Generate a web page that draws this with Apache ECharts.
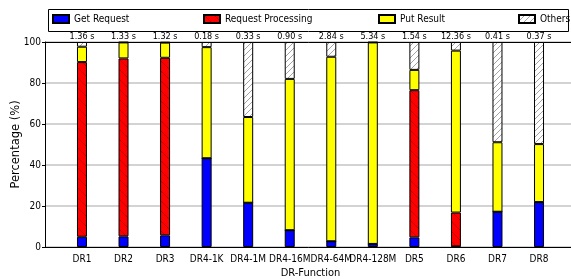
<!DOCTYPE html>
<html>
<head>
<meta charset="utf-8">
<script src="https://cdn.jsdelivr.net/npm/echarts@6/dist/echarts.min.js"></script>
<style>
  html, body { margin: 0; padding: 0; background: #fff; }
  #chart { width: 571px; height: 279px; }
</style>
</head>
<body>
<div id="chart"></div>
<script>
// 各类别和数值
const categories = ['DR1', 'DR2', 'DR3', 'DR4-1K', 'DR4-1M', 'DR4-16M', 'DR4-64M', 'DR4-128M', 'DR5', 'DR6', 'DR7', 'DR8']
const times = ['1.36 s', '1.33 s', '1.32 s', '0.18 s', '0.33 s', '0.90 s', '2.84 s', '5.34 s', '1.54 s', '12.36 s', '0.41 s', '0.37 s']
const getRequest = [5.0, 5.2, 5.7, 43.3, 21.6, 8.2, 2.8, 1.5, 4.7, 0.3, 17.2, 21.9]
const reqProcessing = [85.2, 86.8, 86.6, 0, 0, 0, 0, 0, 71.8, 16.5, 0, 0]
const putResult = [7.5, 7.8, 7.4, 54.2, 41.8, 73.8, 90.0, 98.3, 9.9, 79.0, 33.9, 28.3]
const others = [2.3, 0.2, 0.3, 2.5, 36.6, 18.0, 7.2, 0.2, 13.6, 4.2, 48.9, 49.8]

const narrow = "'DejaVu Sans Condensed', 'DejaVu Sans', sans-serif"

// 斜线填充
function hatch (bg, stroke, size, dir) {
  const c = document.createElement('canvas')
  c.width = size
  c.height = size
  const ctx = c.getContext('2d')
  ctx.fillStyle = bg
  ctx.fillRect(0, 0, size, size)
  ctx.strokeStyle = stroke
  ctx.lineWidth = 0.8
  ctx.beginPath()
  if (dir === '/') {
    ctx.moveTo(-1, size + 1); ctx.lineTo(size + 1, -1)
    ctx.moveTo(-1, 1); ctx.lineTo(1, -1)
    ctx.moveTo(size - 1, size + 1); ctx.lineTo(size + 1, size - 1)
  } else {
    ctx.moveTo(-1, -1); ctx.lineTo(size + 1, size + 1)
    ctx.moveTo(size - 1, -1); ctx.lineTo(size + 1, 1)
    ctx.moveTo(-1, size - 1); ctx.lineTo(1, size + 1)
  }
  ctx.stroke()
  return { image: c, repeat: 'repeat' }
}

const idx = categories.map((c, i) => i)

function barSeries (name, data, color) {
  return {
    name: name,
    type: 'bar',
    stack: 'total',
    xAxisIndex: 2,
    yAxisIndex: 1,
    barWidth: 10,
    data: data,
    itemStyle: { color: color, borderColor: '#000', borderWidth: 1 },
    emphasis: { disabled: true }
  }
}

const chart = echarts.init(document.getElementById('chart'))
const legendPos = [
  { name: 'Get Request', left: 52 },
  { name: 'Request Processing', left: 203 },
  { name: 'Put Result', left: 378 },
  { name: 'Others', left: 518 }
]

// 外框网格（坐标轴）+ 柱子网格（每格 41.55px）
chart.setOption({
  animation: false,
  grid: [
    { left: 45, right: -5, top: 42, bottom: 32, containLabel: false, outerBoundsMode: 'none' },
    { left: 61.2, right: 11.2, top: 42, bottom: 32, containLabel: false, outerBoundsMode: 'none' }
  ],
  legend: legendPos.map(l => ({
    data: [{ name: l.name, icon: 'rect' }],
    left: l.left,
    top: 14,
    padding: 0,
    itemWidth: 16,
    itemHeight: 8,
    itemGap: 6,
    textStyle: { fontFamily: narrow, fontSize: 10, color: '#000' }
  })),
  graphic: [{
    type: 'rect',
    shape: { x: 48.5, y: 9.5, width: 520, height: 22 },
    style: { fill: 'none', stroke: '#000', lineWidth: 1 },
    silent: true
  }],
  xAxis: [{
    type: 'value',
    gridIndex: 0,
    min: -0.89,
    max: 11.89,
    position: 'bottom',
    name: 'DR-Function',
    nameLocation: 'middle',
    nameGap: 21,
    nameMoveOverlap: false,
    nameTextStyle: { fontFamily: narrow, fontSize: 11, color: '#000' },
    axisLine: { show: true, onZero: false, lineStyle: { color: '#000', width: 1 } },
    axisTick: { show: false, customValues: idx },
    axisLabel: {
      customValues: idx,
      formatter: v => categories[Math.round(v)],
      fontFamily: narrow,
      fontSize: 10,
      color: '#000',
      margin: 7
    },
    splitLine: { show: false }
  }, {
    type: 'value',
    gridIndex: 0,
    min: -0.89,
    max: 11.89,
    position: 'top',
    axisLine: { show: true, onZero: false, lineStyle: { color: '#000', width: 1 } },
    axisTick: { show: false, customValues: idx },
    axisLabel: {
      customValues: idx,
      formatter: v => times[Math.round(v)],
      fontFamily: narrow,
      fontSize: 9,
      color: '#000',
      margin: 1
    },
    splitLine: { show: false }
  }, {
    type: 'category',
    gridIndex: 1,
    data: categories,
    show: false
  }],
  yAxis: [{
    type: 'value',
    gridIndex: 0,
    min: 0,
    max: 100,
    interval: 20,
    name: 'Percentage (%)',
    nameLocation: 'middle',
    nameGap: 23,
    nameMoveOverlap: false,
    nameTextStyle: { fontFamily: "'DejaVu Sans', sans-serif", fontSize: 11.5, color: '#000' },
    axisLine: { show: true, onZero: false, lineStyle: { color: '#000', width: 1 } },
    axisTick: { show: true, length: 3, lineStyle: { color: '#000' } },
    axisLabel: { fontFamily: narrow, fontSize: 10, color: '#000', margin: 4 },
    splitLine: { show: true, lineStyle: { color: '#c4c4c4', width: 1.5 } }
  }, {
    type: 'value',
    gridIndex: 1,
    min: 0,
    max: 100,
    show: false,
    splitLine: { show: false }
  }],
  series: [
    barSeries('Get Request', getRequest, '#0000ff'),
    barSeries('Request Processing', reqProcessing, hatch('#ff0000', 'rgba(90,0,0,0.45)', 10, '\\')),
    barSeries('Put Result', putResult, '#ffff00'),
    barSeries('Others', others, hatch('#ffffff', '#8c8c8c', 6, '/'))
  ]
})
</script>
</body>
</html>
